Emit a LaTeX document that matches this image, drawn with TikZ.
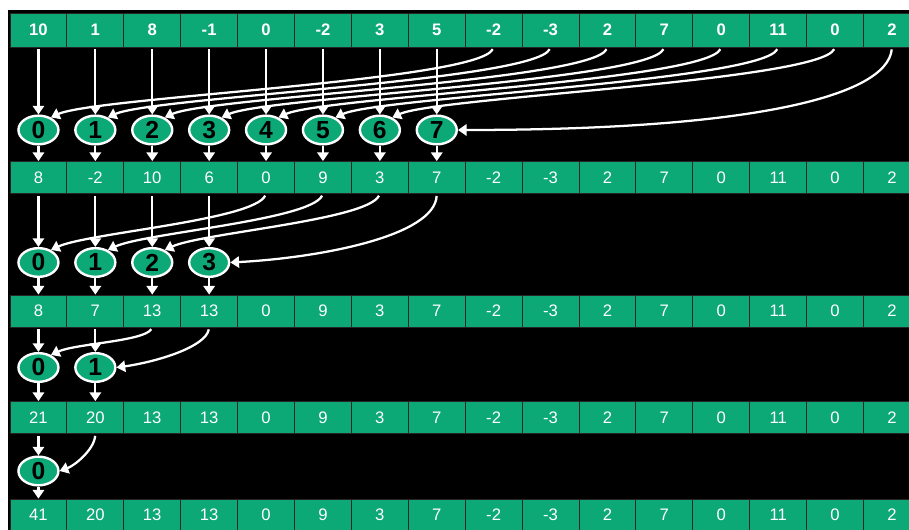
\documentclass[tikz,border=0pt]{standalone}
\usepackage{fontspec}
\setmainfont{Liberation Sans}
\usetikzlibrary{arrows.meta,shapes.geometric}
\definecolor{scangreen}{RGB}{12,168,118}
\tikzset{
  cell/.style={draw=black!85,line width=0.6pt,fill=scangreen,minimum width=42.7pt,
    minimum height=24pt,inner sep=0pt,text=white,font=\fontsize{12.5}{14}\selectfont},
  top cell/.style={cell,minimum height=25.5pt,font=\fontsize{12.5}{14}\selectfont\bfseries},
  adder/.style={ellipse,draw=white,line width=1.8pt,fill=scangreen,minimum width=30pt,
    minimum height=21.5pt,inner sep=0pt,font=\fontsize{18.5}{19}\selectfont\bfseries},
  flow arrow/.style={draw=white,line width=1.7pt,-{Triangle[length=6.5pt,width=8.5pt]}},
  drop arrow/.style={flow arrow,shorten <=1.5pt},
}
\newcommand{\colx}[1]{10+56.9*(#1+0.5)}

\begin{document}
\begin{tikzpicture}[x=0.75pt,y=0.75pt]
  \fill[white] (0,0) rectangle (909,-530);
  \fill[black] (8,-10) rectangle (909,-530);
  \useasboundingbox (0,0) rectangle (909,-530);

  % the array after each step of the reduction
  \foreach \v [count=\i from 0] in {10,1,8,-1,0,-2,3,5,-2,-3,2,7,0,11,0,2}
    \node[top cell] (c0-\i) at ({\colx{\i}},-30) {\v};
  \foreach \v [count=\i from 0] in {8,-2,10,6,0,9,3,7,-2,-3,2,7,0,11,0,2}
    \node[cell] (c1-\i) at ({\colx{\i}},-177.5) {\v};
  \foreach \v [count=\i from 0] in {8,7,13,13,0,9,3,7,-2,-3,2,7,0,11,0,2}
    \node[cell] (c2-\i) at ({\colx{\i}},-311) {\v};
  \foreach \v [count=\i from 0] in {21,20,13,13,0,9,3,7,-2,-3,2,7,0,11,0,2}
    \node[cell] (c3-\i) at ({\colx{\i}},-417.5) {\v};
  \foreach \v [count=\i from 0] in {41,20,13,13,0,9,3,7,-2,-3,2,7,0,11,0,2}
    \node[cell] (c4-\i) at ({\colx{\i}},-515) {\v};

  % adders of each level
  \foreach \i in {0,...,7}
    \node[adder] (o1-\i) at ({\colx{\i}},-130) {\i};
  \foreach \i in {0,...,3}
    \node[adder] (o2-\i) at ({\colx{\i}},-262.5) {\i};
  \foreach \i in {0,1}
    \node[adder] (o3-\i) at ({\colx{\i}},-367.5) {\i};
  \node[adder] (o4-0) at ({\colx{0}},-471) {0};

  % straight inputs and outputs
  \foreach \i in {0,...,7} {
    \draw[drop arrow] (c0-\i.south) -- (o1-\i.north);
    \draw[flow arrow] (o1-\i.south) -- (c1-\i.north);
  }
  \foreach \i in {0,...,3} {
    \draw[drop arrow] (c1-\i.south) -- (o2-\i.north);
    \draw[flow arrow] (o2-\i.south) -- (c2-\i.north);
  }
  \foreach \i in {0,1} {
    \draw[drop arrow] (c2-\i.south) -- (o3-\i.north);
    \draw[flow arrow] (o3-\i.south) -- (c3-\i.north);
  }
  \draw[drop arrow] (c3-0.south) -- (o4-0.north);
  \draw[flow arrow] (o4-0.south) -- (c4-0.north);

  % second operands from the upper half
  \foreach \i [evaluate=\i as \j using int(\i+8)] in {0,...,6}
    \draw[drop arrow] (c0-\j.south) to[out=-116,in=25,out distance=28pt,
      in distance=36pt] (o1-\i.45);
  \draw[drop arrow] (c0-15.south) to[out=-96,in=0,out distance=37pt,
    in distance=220pt] (o1-7.east);

  \foreach \i [evaluate=\i as \j using int(\i+4)] in {0,1,2}
    \draw[drop arrow] (c1-\j.south) to[out=-116,in=25,out distance=22pt,
      in distance=30pt] (o2-\i.45);
  \draw[drop arrow] (c1-7.south) to[out=-93,in=3,out distance=32pt,
    in distance=66pt] (o2-3.east);

  \draw[drop arrow] (c2-2.south) to[out=-120,in=25,out distance=12pt,
    in distance=20pt] (o3-0.45);
  \draw[drop arrow] (c2-3.south) to[out=-100,in=8,out distance=15pt,
    in distance=30pt] (o3-1.east);

  \draw[drop arrow] (c3-1.south) to[out=-95,in=20,out distance=12pt,
    in distance=12pt] (o4-0.east);
\end{tikzpicture}
\end{document}
